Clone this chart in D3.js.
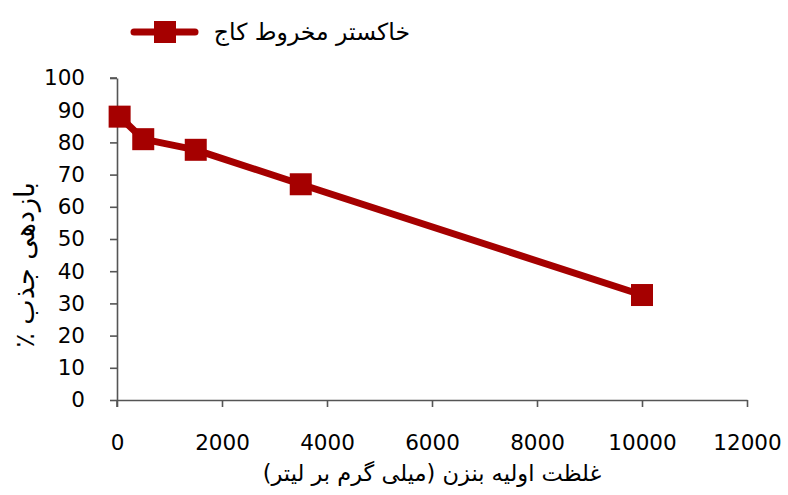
<!DOCTYPE html>
<html><head><meta charset="utf-8">
<script src="https://cdnjs.cloudflare.com/ajax/libs/d3/7.8.5/d3.min.js"></script>
<style>body{margin:0;background:#fff;}svg{display:block;}</style>
</head><body>
<script>
const concentrations = [50, 500, 1500, 3500, 10000];
const efficiency = [88, 81, 77.7, 67, 32.6];
const xTicks = [0, 2000, 4000, 6000, 8000, 10000, 12000];
const yTicks = [0, 10, 20, 30, 40, 50, 60, 70, 80, 90, 100];
const seriesName = "خاکستر مخروط کاج";
const xTitle = "غلظت اولیه بنزن (میلی گرم بر لیتر)";
const yTitle = "بازدهی جذب ٪";

const W = 788, H = 495;
const svg = d3.select("body").append("svg").attr("width", W).attr("height", H);
const x = d3.scaleLinear().domain([0, 12000]).range([117, 747]);
const y = d3.scaleLinear().domain([0, 100]).range([400, 78]);
const axisColor = "#555555";
const red = "#a50000";
const tickFont = "'DejaVu Sans', sans-serif";
const arFont = "'DejaVu Sans', sans-serif";

const gx = svg.append("g").attr("transform", `translate(0,${y(0)})`)
  .call(d3.axisBottom(x).tickValues(xTicks).tickSize(7).tickSizeOuter(0).tickPadding(27).tickFormat(d3.format("d")));
const gy = svg.append("g").attr("transform", `translate(${x(0)},0)`)
  .call(d3.axisLeft(y).tickValues(yTicks).tickSize(7).tickSizeOuter(0).tickPadding(25));
[gx, gy].forEach(g => {
  g.select(".domain").attr("stroke", axisColor).attr("stroke-width", 1.6);
  g.selectAll(".tick line").attr("stroke", axisColor).attr("stroke-width", 1.6);
  g.selectAll("text").attr("fill", "#000").attr("font-size", 21.5).attr("font-family", tickFont);
});
gx.selectAll("text").attr("dy", "0.35em").attr("y", 42);
gy.append("line").attr("x1", 0).attr("x2", 0).attr("y1", y(0)).attr("y2", y(0) + 7)
  .attr("stroke", axisColor).attr("stroke-width", 1.6);
gy.append("line").attr("x1", -7).attr("x2", 0).attr("y1", y(100)).attr("y2", y(100))
  .attr("stroke", axisColor).attr("stroke-width", 1.6);

const data = concentrations.map((c, i) => ({c, v: efficiency[i]}));
svg.append("path").datum(data)
  .attr("fill", "none").attr("stroke", red).attr("stroke-width", 7).attr("stroke-linejoin", "round")
  .attr("d", d3.line().x(d => x(d.c)).y(d => y(d.v)));
const S = 22;
svg.selectAll("rect.m").data(data).enter().append("rect").attr("class", "m")
  .attr("x", d => x(d.c) - S / 2).attr("y", d => y(d.v) - S / 2)
  .attr("width", S).attr("height", S).attr("fill", red);

// legend
const lg = svg.append("g");
lg.append("line").attr("x1", 134).attr("x2", 195).attr("y1", 32).attr("y2", 32)
  .attr("stroke", red).attr("stroke-width", 7).attr("stroke-linecap", "round");
lg.append("rect").attr("x", 165 - 11).attr("y", 32 - 11).attr("width", 22).attr("height", 22).attr("fill", red);
lg.append("text").attr("x", 410).attr("y", 40).attr("direction", "rtl").attr("text-anchor", "start")
  .attr("font-size", 23.5).attr("font-family", arFont).text(seriesName);

svg.append("text").attr("x", 432).attr("y", 481).attr("direction", "rtl").attr("text-anchor", "middle")
  .attr("font-size", 22.5).attr("font-family", arFont).text(xTitle);
svg.append("text").attr("transform", `translate(34,265) rotate(-90)`).attr("direction", "rtl").attr("text-anchor", "middle")
  .attr("font-size", 27).attr("font-family", arFont).text(yTitle);
</script>
</body></html>
